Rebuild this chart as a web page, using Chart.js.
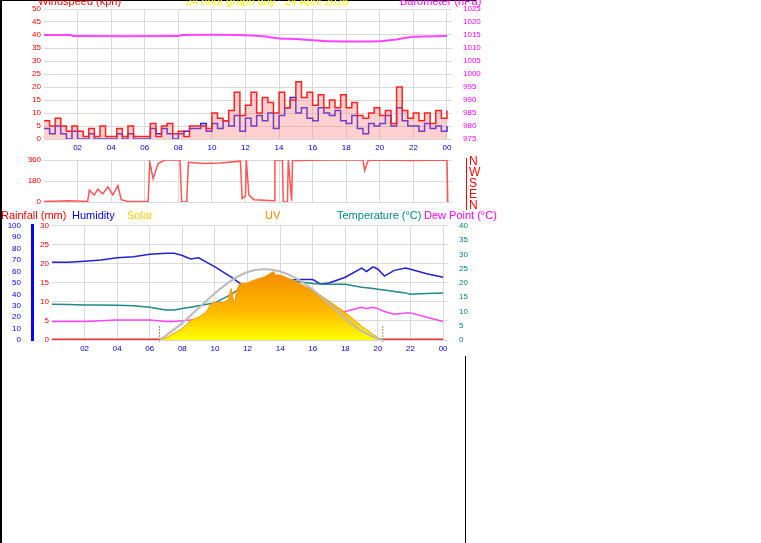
<!DOCTYPE html>
<html><head><meta charset="utf-8">
<script src="https://cdn.jsdelivr.net/npm/chart.js@4.4.1/dist/chart.umd.min.js"></script>
<style>
body{margin:0;background:#fff;width:761px;height:543px;position:relative;overflow:hidden;font-family:"Liberation Sans",Arial,sans-serif}
canvas{position:absolute}
.t{position:absolute;font-size:11px;white-space:nowrap}
.ln{position:absolute;background:#000}
</style></head><body>
<div class="ln" style="left:0;top:0;width:2px;height:543px"></div>
<div class="ln" style="left:0;top:0;width:476px;height:1px"></div>
<div class="ln" style="left:465px;top:356px;width:1px;height:187px"></div>
<div style="position:absolute;left:466px;top:158px;width:1px;height:52px;background:#f00"></div>
<canvas id="c1" style="left:0;top:0"></canvas>
<canvas id="c2" style="left:0;top:150px"></canvas>
<canvas id="c3" style="left:0;top:218px"></canvas>
<div class="t" style="left:38px;top:-5px;color:#f00">Windspeed (kph)</div>
<div class="t" style="left:186px;top:-5px;color:#ff0">24 hour graph day : 24 April 2026</div>
<div class="t" style="left:400px;top:-5px;color:#f0f">Barometer (hPa)</div>
<div class="t" style="left:469px;top:156px;color:#f00;line-height:11px;font-size:12px">N<br>W<br>S<br>E<br>N</div>
<div class="t" style="left:1px;top:209px;color:#f00">Rainfall (mm)</div>
<div class="t" style="left:72px;top:209px;color:#00f">Humidity</div>
<div class="t" style="left:127px;top:209px;color:#fc0">Solar</div>
<div class="t" style="left:265px;top:209px;color:#f80">UV</div>
<div class="t" style="left:337px;top:209px;color:#088">Temperature (°C)</div>
<div class="t" style="left:424px;top:209px;color:#f0f">Dew Point (°C)</div>
<script>
// valeurs toutes les 20 minutes (0h..24h)
const gust=[7,5,8,5,3,5,3,1,4,1,5,1,1,4,1,5,1,1,1,6,1,5,6,2,3,1,5,5,5,4,10,8,7,11,18,9,13,18,10,16,14,10,18,12,15,22,16,18,13,17,12,15,12,17,12,14,9,8,10,12,9,11,6,20,11,8,10,7,10,6,11,8,11];
const avgWind=[4,2,5,2,0,3,0,0,2,0,0,0,0,2,0,2,0,0,0,4,2,4,2,0,2,3,4,4,6,3,6,4,7,5,9,3,8,5,9,7,10,4,9,12,16,10,12,8,7,12,10,9,11,7,6,9,4,2,6,5,6,9,5,12,7,5,5,3,6,4,5,3,5];
const baroHours=[0,1.6,1.7,8,8.2,11.7,13,14,15,16,17,20,21,22,24];
const baro=[1015,1015,1014.6,1014.6,1015,1015,1014.5,1013.7,1013.5,1013,1012.6,1012.6,1013.3,1014.3,1014.6];
const dirHours=[0,1.5,2.6,2.7,3.0,3.2,3.5,3.8,4.1,4.4,4.6,5.0,6.2,6.3,6.5,6.8,7.2,8.1,8.2,8.5,8.6,9.5,10.5,11.7,11.8,12.0,12.05,12.2,12.5,13.7,13.75,14.2,14.25,14.5,14.55,14.75,14.8,15,17,19.0,19.1,19.3,20,22,24,24.05];
const dirVals=[5,10,5,100,60,110,70,130,60,140,20,5,5,340,200,330,360,360,0,0,340,330,335,350,30,50,360,60,20,10,360,360,0,0,360,10,360,355,360,360,270,355,360,355,360,0];
const climHours=[0,1,2,3,4,5,6,7,7.5,8,8.5,9,9.5,10,11,11.5,12,12.5,13,13.5,14,14.5,14.6,15,16,16.5,17,18,19,19.3,19.7,20,20.4,21,21.7,22,23,24];
const humidity=[68,68,69,70,72,73,75,76,76,74,71,72,68,64,55,50,45,40,37,35,33,32,52,53,53,49,50,55,63,60,64,62,56,61,63,62,58,55];
const temperature=[12.5,12.4,12.3,12.3,12.2,12,11.5,10.5,10.5,11,11.5,12,12.5,13,16,18,19,19.5,20,20.5,21,21,20.5,20.5,19.8,19.6,19.5,19.5,18.5,18.3,18,17.8,17.5,17,16.5,16,16.3,16.5];
const dewPoint=[6.5,6.5,6.5,6.7,7,7,7,6.5,6.5,6.7,7,7,7,7,6,5.5,4.5,4.2,4,3.8,3.5,3.5,8.5,8.5,9,9,9,10,11.5,11,11.5,11,10,9,9.5,9.5,8,6.5];
const solarHours=[6.6,7,7.5,8,8.5,9,9.3,9.5,9.7,10,10.5,10.8,11,11.2,11.3,11.5,12,12.5,13,13.5,13.6,13.7,14,14.5,15,15.5,16,17,18,19,20,20.3];
const solar=[0,20,60,100,170,200,230,250,310,330,330,350,450,300,420,490,500,530,550,590,600,570,570,540,510,470,440,340,240,120,20,0];
const uv=[0,5,10,20,40,50,60,70,80,90,100,110,120,125,130,140,150,160,170,175,175,175,170,160,150,140,130,100,70,40,5,0];
const clearHours=[6.6,7,8,9,10,11,12,13,14,15,16,17,18,19,20,20.3];
const clearSky=[0,40,150,280,410,520,595,620,600,540,440,320,190,80,10,0];
const sunMarks=[6.6,20.3];
const hourTicks=[2,4,6,8,10,12,14,16,18,20,22,24];

const pts=(xs,ys)=>ys.map((y,i)=>({x:xs[i],y}));
const q=ys=>ys.map((y,i)=>({x:i/3,y}));
const F={family:"Liberation Sans",size:8};
const dg={color:"#dadada",borderDash:[2,2],drawTicks:false};
const xAxis=(show)=>({type:"linear",min:0,max:24.3,afterBuildTicks:s=>{s.ticks=hourTicks.map(v=>({value:v}))},
  ticks:{display:show,color:"#00c",font:F,maxRotation:0,autoSkip:false,padding:4,callback:v=>String(v%24).padStart(2,"0")},
  grid:dg,border:{display:false}});
const yTicks=(step,color,cb)=>({stepSize:step,color,font:F,autoSkip:false,padding:3,callback:cb||(v=>v)});
const base={animation:false,responsive:false,plugins:{legend:{display:false},tooltip:{enabled:false}},elements:{point:{radius:0}}};

function mk(id,w,h,cfg){const c=document.getElementById(id);c.width=w;c.height=h;return new Chart(c,cfg);}

mk("c1",490,160,{type:"line",data:{datasets:[
 {data:pts(baroHours,baro),yAxisID:"yb",borderColor:"#f4f",borderWidth:2,tension:0.3},
 {data:q(gust),borderColor:"#f22",backgroundColor:"rgba(255,120,120,0.35)",fill:{target:{value:0}},borderWidth:1.5,stepped:true},
 {data:q(avgWind),borderColor:"#22e",borderWidth:1.5,stepped:true}
]},options:{...base,layout:{padding:{top:9}},scales:{
 x:{...xAxis(true),afterFit:s=>{s.height=21}},
 y:{position:"left",min:0,max:50,ticks:yTicks(5,"#f00"),grid:dg,border:{display:false},afterFit:s=>{s.width=44}},
 yb:{position:"right",min:975,max:1025,ticks:yTicks(5,"#f0f",v=>String(v)),grid:{display:false},border:{display:false},afterFit:s=>{s.width=38}}
}}});

mk("c2",480,60,{type:"line",data:{datasets:[
 {data:pts(dirHours,dirVals),borderColor:"#f55",borderWidth:1.5}
]},options:{...base,layout:{padding:{top:10,bottom:8,right:28}},scales:{
 x:{...xAxis(false)},
 y:{min:0,max:360,afterBuildTicks:s=>{s.ticks=[0,180,360].map(v=>({value:v}))},ticks:{color:"#f00",font:F,autoSkip:false},grid:dg,border:{display:false},afterFit:s=>{s.width=44}}
}}});

const marks={id:"marks",afterDatasetsDraw(ch){const g=ch.ctx,x=ch.scales.x,b=ch.chartArea.bottom;g.save();g.strokeStyle="#a86";g.setLineDash([2,1]);
 sunMarks.forEach(h=>{const px=x.getPixelForValue(h);g.beginPath();g.moveTo(px,b-14);g.lineTo(px,b+2);g.stroke();});g.restore();}};

mk("c3",480,145,{type:"line",plugins:[marks],data:{datasets:[
 {data:pts(clearHours,clearSky),yAxisID:"ys",borderColor:"#bbb",borderWidth:2,tension:0.4},
 {data:pts(solarHours,solar),yAxisID:"ys",borderColor:"#f90",borderWidth:1,fill:"origin",backgroundColor:c=>{const a=c.chart.chartArea;if(!a)return"#fa0";const gr=c.chart.ctx.createLinearGradient(0,a.top+45,0,a.bottom);gr.addColorStop(0,"#f08a00");gr.addColorStop(0.6,"#fb0");gr.addColorStop(1,"#ff0");return gr;}},
 {data:pts(solarHours,uv),yAxisID:"ys",borderColor:"rgba(230,120,80,0.6)",borderWidth:1.5},
 {data:pts(climHours,temperature),yAxisID:"yt",borderColor:"#288",borderWidth:1.5},
 {data:pts(climHours,dewPoint),yAxisID:"yt",borderColor:"#f4f",borderWidth:1.5},
 {data:pts(climHours,humidity),yAxisID:"yh",borderColor:"#22c",borderWidth:1.5},
 {data:[{x:0,y:0},{x:24,y:0}],yAxisID:"yr",borderColor:"#e33",borderWidth:3}
]},options:{...base,layout:{padding:{top:7}},scales:{
 x:{...xAxis(true),afterFit:s=>{s.height=23}},
 yr:{position:"left",min:0,max:30,ticks:yTicks(5,"#f00"),grid:dg,border:{display:false},afterFit:s=>{s.width=20}},
 yh:{position:"left",min:0,max:100,ticks:yTicks(10,"#00f"),grid:{display:false},border:{color:"#00f",width:3},afterFit:s=>{s.width=32}},
 ys:{display:false,min:0,max:1000},
 yt:{position:"right",min:0,max:40,ticks:yTicks(5,"#088"),grid:{display:false},border:{display:false},afterFit:s=>{s.width=32}}
}}});
</script></body></html>
